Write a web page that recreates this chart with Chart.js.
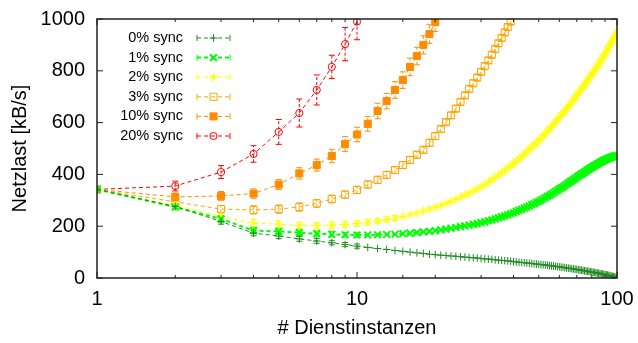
<!DOCTYPE html>
<html>
<head>
<meta charset="utf-8">
<script src="https://cdn.jsdelivr.net/npm/chart.js@4/dist/chart.umd.min.js"></script>
<style>
html,body{margin:0;padding:0;background:#fff}
</style>
</head>
<body>
<canvas id="netzChart" width="638" height="343"></canvas>
<script>
/* Werte */
var instanzen = [1,2,3,4,5,6,7,8,9,10,11,12,13,14,15,16,17,18,19,20,
  21,22,23,24,25,26,27,28,29,30,31,32,33,34,35,36,37,38,39,40,
  41,42,43,44,45,46,47,48,49,50,51,52,53,54,55,56,57,58,59,60,
  61,62,63,64,65,66,67,68,69,70,71,72,73,74,75,76,77,78,79,80,
  81,82,83,84,85,86,87,88,89,90,91,92,93,94,95,96,97,98,99,100]

var sync0 = [342,276,218,173,162,151,143,136,129,123,
  118,114,110,106,103,100,97,95,92,90,
  88,87,85,84,82,81,79,78,77,75,
  74,73,72,70,69,68,67,66,65,63,
  62,61,60,59,58,57,56,55,54,53,
  52,51,50,49,48,47,46,45,44,43,
  42,41,40,39,38,37,36,35,34,33,
  32,31,30,29,28,27,26,25,24,23,
  22,21,20,19,18,17,16,15,14,13,
  12,11,10,9,7,6,5,3,2,0]
var sync1 = [342,274,228,183,180,175,171,169,167,166,
  166,167,168,169,171,173,175,178,180,183,
  186,189,192,195,198,201,204,207,210,214,
  217,221,224,228,232,236,240,244,248,252,
  257,261,265,270,274,278,283,287,292,296,
  301,305,310,315,319,324,329,334,338,343,
  348,352,357,362,366,371,375,380,384,389,
  393,397,401,405,409,413,417,420,424,427,
  431,434,437,440,443,446,449,451,454,456,
  458,461,463,465,466,468,470,471,473,474]
var sync2 = [342,280,238,212,208,203,202,204,206,210,
  215,220,226,232,238,245,252,259,266,273,
  280,288,296,304,312,320,328,336,344,352,
  361,370,379,388,397,406,415,424,433,442,
  451,460,469,478,487,496,505,513,522,531,
  540,549,558,567,576,584,593,602,611,620,
  628,637,645,654,662,671,679,688,696,705,
  713,721,730,738,746,754,762,770,778,786,
  794,802,810,818,826,834,842,850,858,866,
  874,882,890,899,907,915,924,932,941,950]
var sync3 = [342,294,266,263,266,274,288,305,322,340,
  361,379,398,417,436,456,476,495,522,548,
  575,602,628,654,680,705,730,752,774,796,
  818,840,862,884,906,927,948,969,990]
var sync10 = [342,313,317,326,361,404,436,471,517,554,
  595,645,683,726,764,815,857,900,942,988]
var sync20 = [342,355,409,479,564,637,726,815,903,990]

/* Fehlerbalken (+/-) */
var fehler0 = [0,8,10,10,10,9,9,8,8,8]
var fehler1 = [0,8,12,12,12,11,10,10,9,9]
var fehler2 = [0,8,12,14,14,13,12,12,11,11,10,10,10,10]
var fehler3 = [0,10,14,16,16,16,15,15,14,14,14,14,13,13,13,13,13,13,13,13,
  12,12,12,12,12,12,12,12,12,12,12,12,12,12,12,12,12,12,12]
var fehler10 = [0,15,17,18,19,22,23,26,29,28,28,30,30,32,32,34,34,35,36,36]
var fehler20 = [0,19,25,32,48,54,58,45,64,70]

var namen = ['0% sync','1% sync','2% sync','3% sync','10% sync','20% sync']
var yTicks = [0,200,400,600,800,1000]
var xTicks = [1,10,100]

function punkte(werte){
  return werte.map(function(v, i){ return {x: instanzen[i], y: v} })
}

function serie(name, werte, fehler, farbe, stil, fuellung, radius, breite){
  return {
    label: name,
    data: punkte(werte),
    errors: fehler,
    borderColor: farbe,
    backgroundColor: fuellung,
    borderWidth: breite,
    borderDash: [4, 3],
    pointStyle: stil,
    pointRadius: radius,
    pointBorderWidth: breite,
    pointBorderColor: farbe,
    pointBackgroundColor: fuellung,
    tension: 0,
    fill: false
  }
}

var datasets = [
  serie(namen[0], sync0, fehler0, '#228b22', 'cross', 'transparent', 3.8, 1),
  serie(namen[1], sync1, fehler1, '#00ff00', 'crossRot', 'transparent', 4.8, 2),
  serie(namen[2], sync2, fehler2, '#ffff00', 'star', 'transparent', 4.4, 1),
  serie(namen[3], sync3, fehler3, '#ffa500', 'rect', 'transparent', 5, 1),
  serie(namen[4], sync10, fehler10, '#ff8c00', 'rect', '#ff8c00', 5, 1),
  serie(namen[5], sync20, fehler20, '#ff0000', 'circle', 'transparent', 3.6, 1)
]

/* Fehlerbalken zeichnen */
var errorBars = {
  id: 'errorBars',
  beforeDatasetsDraw: function(chart){
    var ctx = chart.ctx, a = chart.chartArea, ys = chart.scales.y
    ctx.save()
    ctx.beginPath()
    ctx.rect(a.left, a.top - 1, a.right - a.left, a.bottom - a.top + 2)
    ctx.clip()
    chart.data.datasets.forEach(function(ds, di){
      var meta = chart.getDatasetMeta(di)
      ctx.strokeStyle = ds.borderColor
      ctx.lineWidth = 1
      ctx.setLineDash([3, 2])
      meta.data.forEach(function(pt, i){
        var e = ds.errors[i]
        if(!e) return
        var v = ds.data[i].y
        var y1 = ys.getPixelForValue(v - e), y2 = ys.getPixelForValue(v + e)
        ctx.beginPath()
        ctx.moveTo(pt.x, y1); ctx.lineTo(pt.x, y2)
        ctx.stroke()
        ctx.setLineDash([])
        ctx.beginPath()
        ctx.moveTo(pt.x - 3, y1); ctx.lineTo(pt.x + 3, y1)
        ctx.moveTo(pt.x - 3, y2); ctx.lineTo(pt.x + 3, y2)
        ctx.stroke()
        ctx.setLineDash([3, 2])
      })
    })
    ctx.restore()
  }
}

/* Rahmen, Ticks nach innen und Legende im gnuplot-Stil */
var rahmen = {
  id: 'rahmen',
  afterDraw: function(chart){
    var ctx = chart.ctx, a = chart.chartArea
    var xs = chart.scales.x, ys = chart.scales.y
    ctx.save()
    ctx.strokeStyle = '#222'
    ctx.lineWidth = 1.5
    ctx.setLineDash([])
    ctx.strokeRect(a.left, a.top, a.right - a.left, a.bottom - a.top)
    ctx.lineWidth = 1
    ctx.beginPath()
    yTicks.forEach(function(t){
      var y = ys.getPixelForValue(t)
      ctx.moveTo(a.left, y); ctx.lineTo(a.left + 6, y)
      ctx.moveTo(a.right, y); ctx.lineTo(a.right - 6, y)
    })
    xs.ticks.forEach(function(t){
      var x = xs.getPixelForValue(t.value)
      var len = xTicks.indexOf(t.value) >= 0 ? 6 : 3
      ctx.moveTo(x, a.bottom); ctx.lineTo(x, a.bottom - len)
      ctx.moveTo(x, a.top); ctx.lineTo(x, a.top + len)
    })
    ctx.stroke()

    // Legende
    var textRechts = a.left + 86, l1 = a.left + 100, l2 = a.left + 133
    ctx.font = '14.5px "Liberation Sans", Arial, sans-serif'
    ctx.textAlign = 'right'
    ctx.textBaseline = 'middle'
    chart.data.datasets.forEach(function(ds, di){
      var y = a.top + 19 + di * 19.6
      ctx.fillStyle = '#000'
      ctx.fillText(ds.label, textRechts, y)
      ctx.strokeStyle = ds.borderColor
      ctx.lineWidth = ds.borderWidth
      ctx.setLineDash([4, 3])
      ctx.beginPath(); ctx.moveTo(l1, y); ctx.lineTo(l2, y); ctx.stroke()
      ctx.setLineDash([])
      ctx.lineWidth = 1
      ctx.beginPath()
      ctx.moveTo(l1, y - 3); ctx.lineTo(l1, y + 3)
      ctx.moveTo(l2, y - 3); ctx.lineTo(l2, y + 3)
      ctx.stroke()
      ctx.lineWidth = ds.pointBorderWidth
      ctx.fillStyle = ds.pointBackgroundColor
      Chart.helpers.drawPoint(ctx, {pointStyle: ds.pointStyle, radius: ds.pointRadius, rotation: 0, borderWidth: ds.pointBorderWidth}, (l1 + l2) / 2, y)
    })
    ctx.restore()
  }
}

const config = {
  type: 'line',
  data: { datasets: datasets },
  options: {
    responsive: false,
    animation: false,
    layout: { padding: { top: 19, right: 21, left: 0, bottom: 0 } },
    plugins: { legend: { display: false }, tooltip: { enabled: false } },
    scales: {
      x: {
        type: 'logarithmic',
        min: 1, max: 100,
        grid: { display: false, drawTicks: false },
        border: { display: false },
        afterFit: function(s){ s.height = 65; s.paddingLeft = 0; s.paddingRight = 0 },
        ticks: {
          autoSkip: false,
          maxRotation: 0,
          padding: 9,
          color: '#000',
          font: { family: '"Liberation Sans", Arial, sans-serif', size: 20 },
          callback: function(v){ return xTicks.indexOf(v) >= 0 ? String(v) : '' }
        },
        title: {
          display: true, text: '# Dienstinstanzen', color: '#000',
          font: { family: '"Liberation Sans", Arial, sans-serif', size: 20 },
          padding: { top: 0, bottom: 3 }
        }
      },
      y: {
        min: 0, max: 1000,
        grid: { display: false, drawTicks: false },
        border: { display: false },
        afterFit: function(s){ s.width = 97; s.paddingTop = 0; s.paddingBottom = 0 },
        afterBuildTicks: function(s){ s.ticks = yTicks.map(function(v){ return {value: v} }) },
        ticks: {
          padding: 12,
          color: '#000',
          font: { family: '"Liberation Sans", Arial, sans-serif', size: 20 },
          callback: function(v){ return String(v) }
        },
        title: {
          display: true, text: 'Netzlast [kB/s]', color: '#000',
          font: { family: '"Liberation Sans", Arial, sans-serif', size: 20 },
          padding: { top: 8, bottom: 0 }
        }
      }
    }
  },
  plugins: [errorBars, rahmen]
}

const myChart = new Chart(document.getElementById('netzChart'), config)
</script>
</body>
</html>
